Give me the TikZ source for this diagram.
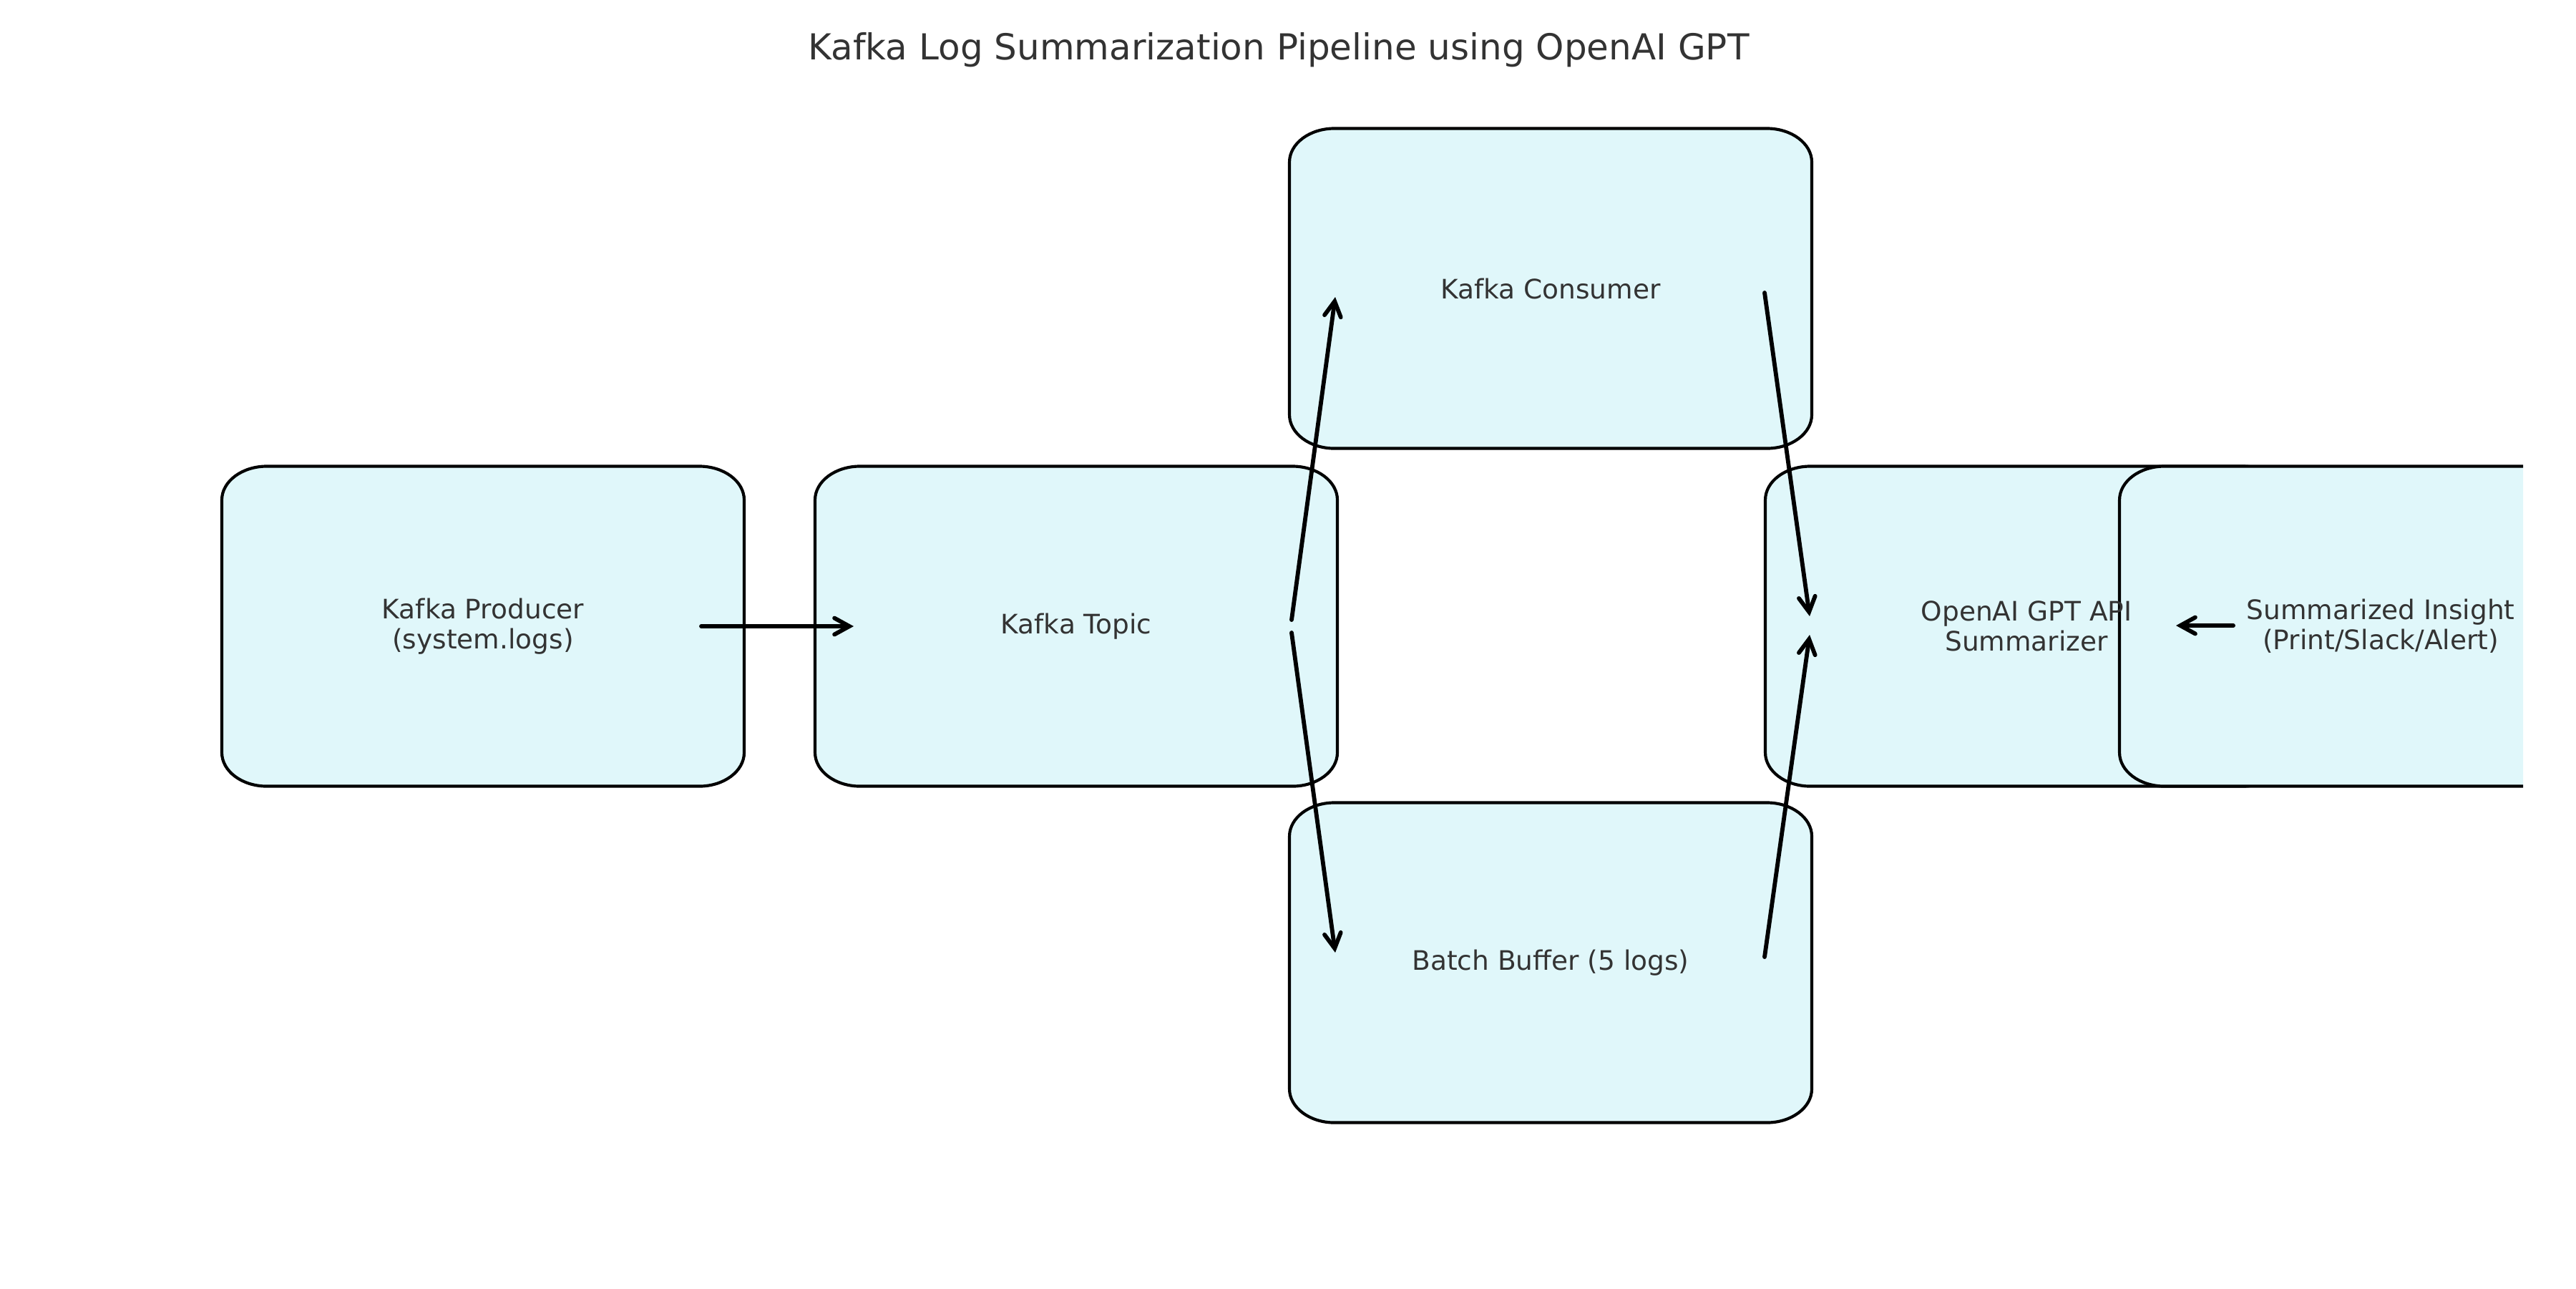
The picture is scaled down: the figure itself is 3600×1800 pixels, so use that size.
\documentclass[tikz,border=0pt]{standalone}
\usepackage{fontspec}
\setmainfont{DejaVu Sans}
\usetikzlibrary{arrows.meta,calc}
\definecolor{boxfill}{HTML}{E0F7FA}
\definecolor{txt}{HTML}{333333}
\newcommand{\ovalbox}[1]{%
  \draw[boxline] ([yshift=-11.3pt]#1.north west)
    arc[start angle=180,end angle=90,x radius=15.1pt,y radius=11.3pt]
    -- ([xshift=-15.1pt]#1.north east)
    arc[start angle=90,end angle=0,x radius=15.1pt,y radius=11.3pt]
    -- ([yshift=11.3pt]#1.south east)
    arc[start angle=0,end angle=-90,x radius=15.1pt,y radius=11.3pt]
    -- ([xshift=15.1pt]#1.south west)
    arc[start angle=270,end angle=180,x radius=15.1pt,y radius=11.3pt]
    -- cycle;}
\begin{document}
\begin{tikzpicture}[x=0.24pt,y=-0.24pt,
  boxsize/.style={draw=none, minimum width=175.2pt, minimum height=107.3pt,
    inner sep=0pt, outer sep=0pt},
  boxline/.style={draw=black, line width=1pt, fill=boxfill},
  lbl/.style={text=txt, font=\fontsize{9}{10}\selectfont, align=center},
  flow/.style={line width=1.4pt, line cap=round,
    -{Straight Barb[length=5pt,width=5.5pt,line cap=round]}}]
\useasboundingbox (0,0) rectangle (3600,1800);
% box frames (named nodes)
\node[boxsize] (prod)  at (675,875)  {};
\node[boxsize] (topic) at (1504,875) {};
\node[boxsize] (cons)  at (2167,403) {};
\node[boxsize] (buf)   at (2167,1345) {};
\node[boxsize] (gpt)   at (2832,875) {};
\node[boxsize] (sum)   at (3327,875) {};
% boxes
\ovalbox{prod}
\ovalbox{topic}
\ovalbox{cons}
\ovalbox{buf}
\ovalbox{gpt}
\begin{scope}
  \clip (0,0) rectangle (3526,1800);
  \ovalbox{sum}
\end{scope}
% connectors
\draw[flow] ($(prod)+(305,0)$) -- ($(topic)+(-311,0)$);
\draw[flow] ($(topic)+(301,-9)$) -- ($(cons)+(-301,12)$);
\draw[flow] ($(topic)+(301,9)$) -- ($(buf)+(-301,-14)$);
\draw[flow] ($(cons)+(299,6)$) -- ($(gpt)+(-303,-14)$);
\draw[flow] ($(buf)+(299,-8)$) -- ($(gpt)+(-303,12)$);
\draw[flow] ($(sum)+(-206,-1)$) -- ($(gpt)+(209,-1)$);
% labels
\node[lbl] (prod-t)  at (prod)  {Kafka Producer\\(system.logs)};
\node[lbl] (topic-t) at (topic) {Kafka Topic};
\node[lbl] (cons-t)  at (cons)  {Kafka Consumer};
\node[lbl] (buf-t)   at (buf)   {Batch Buffer (5 logs)};
\node[lbl] (gpt-t)   at (gpt)   {OpenAI GPT API\\Summarizer};
\node[lbl] (sum-t)   at (sum)   {Summarized Insight\\(Print/Slack/Alert)};
\node[text=txt, font=\fontsize{12}{14}\selectfont, anchor=base, inner sep=0pt] (title) at (1787,83)
  {Kafka Log Summarization Pipeline using OpenAI GPT};
\end{tikzpicture}
\end{document}
